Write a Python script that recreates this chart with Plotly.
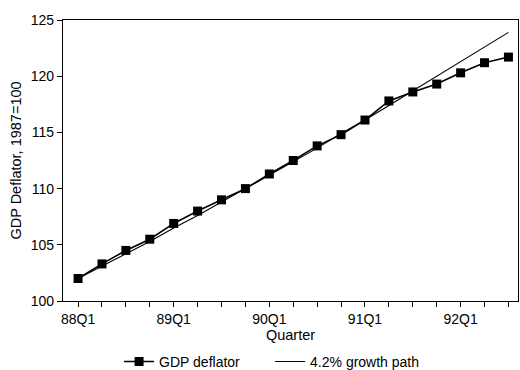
import plotly.graph_objects as go

quarters = ["88Q1", "88Q2", "88Q3", "88Q4",
            "89Q1", "89Q2", "89Q3", "89Q4",
            "90Q1", "90Q2", "90Q3", "90Q4",
            "91Q1", "91Q2", "91Q3", "91Q4",
            "92Q1", "92Q2", "92Q3"]

gdp_deflator = [102.0, 103.3, 104.5, 105.5,
                106.9, 108.0, 109.0, 110.0,
                111.3, 112.5, 113.8, 114.8,
                116.1, 117.8, 118.6, 119.3,
                120.3, 121.2, 121.7]

growth_path = [102.0, 103.1, 104.2, 105.3,
               106.5, 107.6, 108.8, 110.0,
               111.2, 112.4, 113.6, 114.9,
               116.1, 117.4, 118.7, 120.0,
               121.3, 122.6, 123.9]

tick_labels = [q if q.endswith("Q1") else "" for q in quarters]

FONT = "Liberation Sans, Arial, Helvetica, sans-serif"

fig = go.Figure()
fig.add_trace(go.Scatter(
    x=quarters, y=gdp_deflator, name="GDP deflator",
    mode="lines+markers",
    line=dict(color="black", width=1.6),
    marker=dict(symbol="square", size=9, color="black"),
))
fig.add_trace(go.Scatter(
    x=quarters, y=growth_path, name="4.2% growth path",
    mode="lines",
    line=dict(color="black", width=1.1),
))

fig.update_layout(
    width=520, height=370,
    margin=dict(l=63, r=2, t=20, b=69),
    paper_bgcolor="white", plot_bgcolor="white",
    font=dict(family=FONT, color="black", size=14),
    showlegend=True,
    legend=dict(
        orientation="h", xref="container", yref="container",
        x=0.229, y=0.022, xanchor="left", yanchor="middle",
        font=dict(size=14), entrywidth=106, itemwidth=30,
        bgcolor="rgba(0,0,0,0)",
    ),
    xaxis=dict(
        type="category", range=[-0.63, 18.4], automargin=False,
        tickvals=quarters, ticktext=tick_labels,
        ticks="outside", ticklen=5, tickwidth=1, tickcolor="black",
        showline=True, linecolor="black", linewidth=1.2, mirror=True,
        showgrid=False, zeroline=False,
        tickfont=dict(size=14),
        title=dict(text="Quarter", font=dict(size=14.5), standoff=1),
    ),
    yaxis=dict(
        range=[100, 125], tickvals=[100, 105, 110, 115, 120, 125],
        automargin=False,
        ticks="outside", ticklen=5, tickwidth=1, tickcolor="black",
        showline=True, linecolor="black", linewidth=1.2, mirror=True,
        showgrid=False, zeroline=False,
        tickfont=dict(size=14),
        title=dict(text="GDP Deflator, 1987=100", font=dict(size=14.5), standoff=5),
    ),
)

fig.write_html(
    "out.html",
    config={"displayModeBar": False},
    post_script="document.body.style.margin='0';document.body.style.overflow='hidden';",
)
